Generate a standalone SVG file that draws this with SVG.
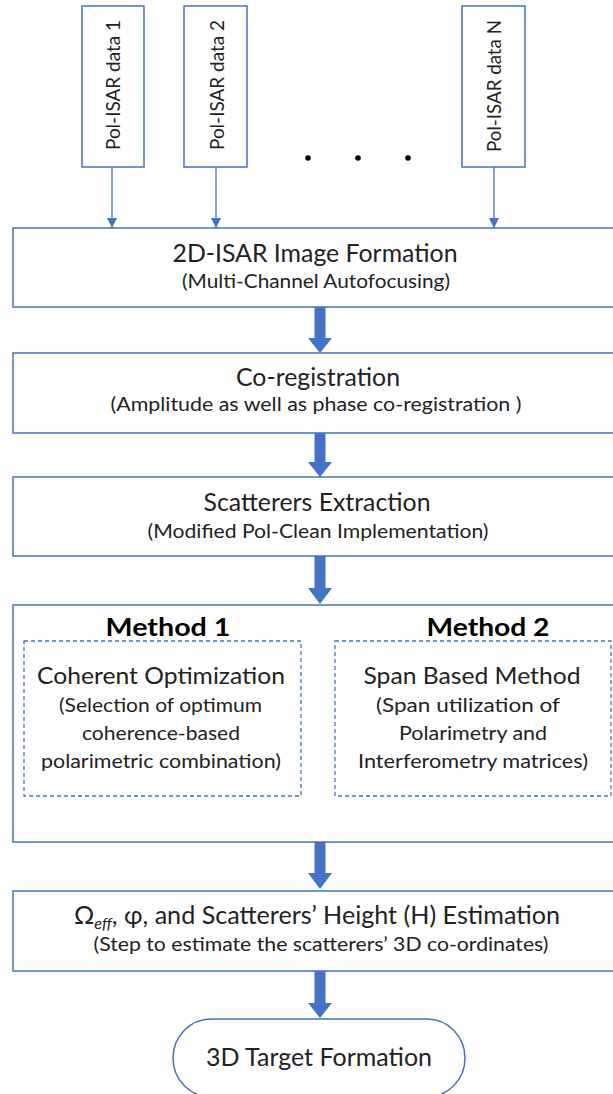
<svg xmlns="http://www.w3.org/2000/svg" width="613" height="1094" viewBox="0 0 613 1094">
  <defs>
    <style>
      .box { fill: #ffffff; stroke: #4472c4; stroke-width: 1.5; }
      .dash { fill: none; stroke: #4472c4; stroke-width: 1.3; stroke-dasharray: 4 3; }
      .thin { stroke: #4472c4; stroke-width: 1.3; fill: none; }
      .thick { fill: #4472c4; stroke: none; }
      text { font-family: "Lato", "Liberation Sans", sans-serif; fill: #222222; text-anchor: middle; }
      .title { font-size: 25px; }
      .sub { font-size: 19.5px; }
      .head { font-size: 25px; font-weight: bold; fill: #000000; }
      .inner { font-size: 24px; }
      .innersub { font-size: 19.5px; }
      .vert { font-size: 19px; }
    </style>
    <marker id="tri" viewBox="0 0 10 10" refX="10" refY="5" markerWidth="10" markerHeight="10" markerUnits="userSpaceOnUse" orient="auto">
      <path d="M0,0 L10,5 L0,10 Z" fill="#4472c4"/>
    </marker>
  </defs>

  <rect width="613" height="1094" fill="#ffffff"/>

  <!-- input data sources -->
  <g id="data1">
    <rect class="box" x="82" y="6" width="62" height="161"/>
    <text class="vert" transform="translate(120,85) rotate(-90)" textLength="130" lengthAdjust="spacingAndGlyphs">Pol-ISAR data 1</text>
  </g>
  <g id="data2">
    <rect class="box" x="184" y="6" width="63" height="161"/>
    <text class="vert" transform="translate(224,85) rotate(-90)" textLength="130" lengthAdjust="spacingAndGlyphs">Pol-ISAR data 2</text>
  </g>
  <g id="dataN">
    <rect class="box" x="462" y="6" width="63" height="161"/>
    <text class="vert" transform="translate(501,86) rotate(-90)" textLength="132" lengthAdjust="spacingAndGlyphs">Pol-ISAR data N</text>
  </g>
  <g id="ellipsis" fill="#000000">
    <circle cx="308" cy="158" r="2.8"/>
    <circle cx="358" cy="158" r="2.8"/>
    <circle cx="408" cy="158" r="2.8"/>
  </g>

  <!-- processing steps -->
  <g id="imageFormation">
    <rect class="box" x="13" y="228" width="640" height="79"/>
    <text class="title" x="315" y="262" textLength="285" lengthAdjust="spacingAndGlyphs">2D-ISAR Image Formation</text>
    <text class="sub" x="316" y="288" textLength="268" lengthAdjust="spacingAndGlyphs">(Multi-Channel Autofocusing)</text>
  </g>
  <g id="coregistration">
    <rect class="box" x="13" y="353" width="640" height="80"/>
    <text class="title" x="318" y="386" textLength="164" lengthAdjust="spacingAndGlyphs">Co-registration</text>
    <text class="sub" x="316" y="411" textLength="411" lengthAdjust="spacingAndGlyphs">(Amplitude as well as phase co-registration )</text>
  </g>
  <g id="extraction">
    <rect class="box" x="13" y="477" width="640" height="79"/>
    <text class="title" x="317" y="511" textLength="227" lengthAdjust="spacingAndGlyphs">Scatterers Extraction</text>
    <text class="sub" x="318" y="538" textLength="341" lengthAdjust="spacingAndGlyphs">(Modified Pol-Clean Implementation)</text>
  </g>
  <g id="methods">
    <rect class="box" x="13" y="605" width="640" height="237"/>
    <text class="head" x="168" y="636" textLength="125" lengthAdjust="spacingAndGlyphs">Method 1</text>
    <text class="head" x="488" y="636" textLength="123" lengthAdjust="spacingAndGlyphs">Method 2</text>
    <g id="method1">
      <rect class="dash" x="24" y="641" width="277" height="155"/>
      <text class="inner" x="161" y="684" textLength="248" lengthAdjust="spacingAndGlyphs">Coherent Optimization</text>
      <text class="innersub" x="160.5" y="712" textLength="203" lengthAdjust="spacingAndGlyphs">(Selection of optimum</text>
      <text class="innersub" x="161" y="740" textLength="158" lengthAdjust="spacingAndGlyphs">coherence-based</text>
      <text class="innersub" x="161" y="768" textLength="240" lengthAdjust="spacingAndGlyphs">polarimetric combination)</text>
    </g>
    <g id="method2">
      <rect class="dash" x="335" y="641" width="276" height="155"/>
      <text class="inner" x="472" y="684" textLength="217" lengthAdjust="spacingAndGlyphs">Span Based Method</text>
      <text class="innersub" x="468" y="712" textLength="184" lengthAdjust="spacingAndGlyphs">(Span utilization of</text>
      <text class="innersub" x="473" y="740" textLength="148" lengthAdjust="spacingAndGlyphs">Polarimetry and</text>
      <text class="innersub" x="473" y="768" textLength="230" lengthAdjust="spacingAndGlyphs">Interferometry matrices)</text>
    </g>
  </g>
  <g id="estimation">
    <rect class="box" x="13" y="891" width="640" height="80"/>
    <text class="title" x="317" y="924" textLength="486" lengthAdjust="spacingAndGlyphs">Ω<tspan font-size="16" font-style="italic" dy="5">eff</tspan><tspan dy="-5">, φ, and Scatterers’ Height (H) Estimation</tspan></text>
    <text class="sub" x="321" y="951" textLength="455" lengthAdjust="spacingAndGlyphs">(Step to estimate the scatterers’ 3D co-ordinates)</text>
  </g>
  <g id="target">
    <rect class="box" x="173" y="1019" width="292" height="78" rx="38" ry="39"/>
    <text class="title" x="319" y="1066" textLength="226" lengthAdjust="spacingAndGlyphs">3D Target Formation</text>
  </g>

  <!-- connectors -->
  <g id="connectors">
    <line class="thin" x1="112" y1="167" x2="112" y2="228" marker-end="url(#tri)"/>
    <line class="thin" x1="216" y1="167" x2="216" y2="228" marker-end="url(#tri)"/>
    <line class="thin" x1="494" y1="167" x2="494" y2="228" marker-end="url(#tri)"/>
    <path class="thick" d="M314.5,307 H325.5 V338 H332 L320,353 L308,338 H314.5 Z"/>
    <path class="thick" d="M314.5,433 H325.5 V462 H332 L320,477 L308,462 H314.5 Z"/>
    <path class="thick" d="M314.5,556 H325.5 V588 H332 L320,604 L308,588 H314.5 Z"/>
    <path class="thick" d="M314.5,842 H325.5 V873 H332 L320,889 L308,873 H314.5 Z"/>
    <path class="thick" d="M314.5,971 H325.5 V1003 H332 L320,1018 L308,1003 H314.5 Z"/>
  </g>
</svg>
